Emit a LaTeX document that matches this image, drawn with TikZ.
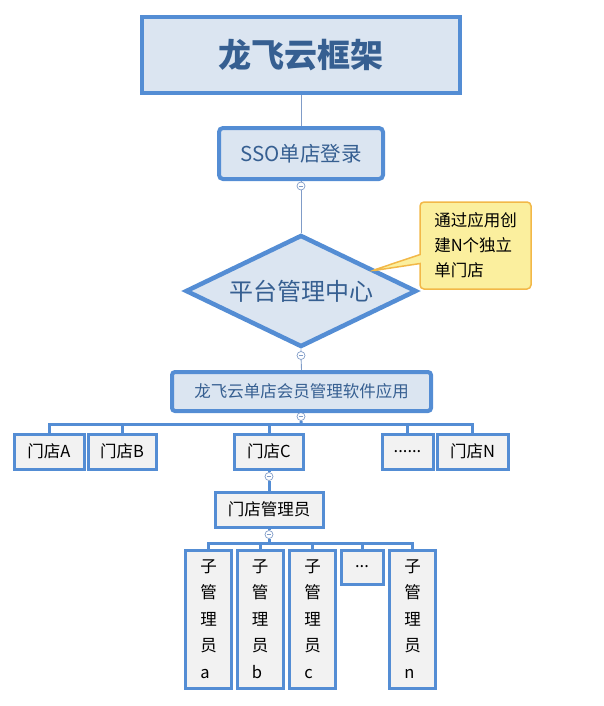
\documentclass[tikz,border=0pt]{standalone}
\usepackage{fontspec}
\setmainfont{Noto Sans CJK SC}
\usepackage{tikz}
\usetikzlibrary{shapes.geometric,shapes.callouts}
\definecolor{BlueEdge}{RGB}{84,141,212}
\definecolor{PaleBlue}{RGB}{219,229,241}
\definecolor{TitleBlue}{RGB}{54,95,145}
\definecolor{ThinLine}{RGB}{128,156,200}
\definecolor{StoreGray}{RGB}{242,242,242}
\definecolor{NoteYellow}{RGB}{251,239,158}
\definecolor{NoteEdge}{RGB}{242,184,72}

\begin{document}
\begin{tikzpicture}[x=1pt,y=-1pt,
  mainbox/.style={draw=BlueEdge,fill=PaleBlue,text=TitleBlue,line width=4,inner sep=0},
  storebox/.style={draw=BlueEdge,fill=StoreGray,line width=3,inner sep=0,
    minimum height=35,font=\fontsize{16.5}{18}\selectfont},
  subbox/.style={storebox,minimum width=46,minimum height=138,align=left,
    font=\fontsize{16.5}{26.5}\selectfont},
  thinlink/.style={draw=ThinLine,line width=0.9},
  buslink/.style={draw=BlueEdge,line width=3},
  fold/.style={circle,draw=ThinLine,fill=white,line width=0.7,inner sep=0,minimum size=8,
    path picture={\draw[ThinLine,line width=0.7]
      ([xshift=-2.2]path picture bounding box.center) -- ([xshift=2.2]path picture bounding box.center);}}]
  \useasboundingbox (0,0) rectangle (603,706);

  % tronco principal
  \node[mainbox,minimum width=318,minimum height=76,font=\fontsize{33}{36}\selectfont\bfseries]
    (frame) at (301,55) {龙飞云框架};
  \node[mainbox,rounded corners=4,minimum width=164,minimum height=51,font=\fontsize{20.5}{24}\selectfont]
    (sso) at (301,153.5) {SSO单店登录};
  \node[mainbox,diamond,aspect=2,line width=4.5,minimum width=231,minimum height=112,
    font=\fontsize{24}{28}\selectfont] (hub) at (301,291) {平台管理中心};
  \node[mainbox,rounded corners=3,minimum width=259,minimum height=39,font=\fontsize{16.5}{20}\selectfont]
    (app) at (301.5,391.5) {龙飞云单店会员管理软件应用};

  % nota
  \coordinate (tip) at (371,271);
  \node[rectangle callout,callout absolute pointer={(tip)},callout pointer width=9,
    draw=NoteEdge,fill=NoteYellow,line width=1.5,rounded corners=4,
    minimum width=111,minimum height=87,align=left,font=\fontsize{16.5}{25}\selectfont]
    (note) at (475.5,245.5) {通过应用创\\建N个独立\\单门店};

  % 门店
  \node[storebox,minimum width=70] (sA) at (49,451.5) {门店A};
  \node[storebox,minimum width=68] (sB) at (122,451.5) {门店B};
  \node[storebox,minimum width=69] (sC) at (269,451.5) {门店C};
  \node[storebox,minimum width=51] (sD) at (407.5,451.5) {......};
  \node[storebox,minimum width=71] (sN) at (472.5,451.5) {门店N};
  \node[storebox,minimum width=108] (mgr) at (269,509.5) {门店管理员};

  % 子管理员
  \node[subbox] (ua) at (208.5,619) {子\\管\\理\\员\\a};
  \node[subbox] (ub) at (260,619) {子\\管\\理\\员\\b};
  \node[subbox] (uc) at (312.5,619) {子\\管\\理\\员\\c};
  \node[storebox,minimum width=42,minimum height=34] (ud) at (362,567) {...};
  \node[subbox] (un) at (412.5,619) {子\\管\\理\\员\\n};

  % conexiones
  \node[fold] (f1) at (301,186) {};
  \node[fold] (f2) at (301,355.5) {};
  \node[fold] (f3) at (301,416.5) {};
  \node[fold] (f4) at (269,476.5) {};
  \node[fold] (f5) at (269,534.5) {};
  \coordinate (bus) at (301,424);
  \coordinate (subbus) at (269,543);

  \draw[thinlink] (frame.south) -- (sso.north);
  \draw[thinlink] (sso.south) -- (f1) -- (hub.north);
  \draw[thinlink] (hub.south) -- (f2) -- (app.north);
  \draw[buslink] (app.south) -- (f3) -- (bus);
  \draw[buslink] (sA.north) |- (bus) -| (sN.north);
  \foreach \s in {sB,sC,sD}
    \draw[buslink] (\s.north) -- (\s.north |- bus);
  \draw[buslink] (sC.south) -- (f4) -- (mgr.north);
  \draw[buslink] (mgr.south) -- (f5) -- (subbus);
  \draw[buslink] (ua.north) |- (subbus) -| (un.north);
  \foreach \s in {ub,uc,ud}
    \draw[buslink] (\s.north) -- (\s.north |- subbus);
\end{tikzpicture}
\end{document}
